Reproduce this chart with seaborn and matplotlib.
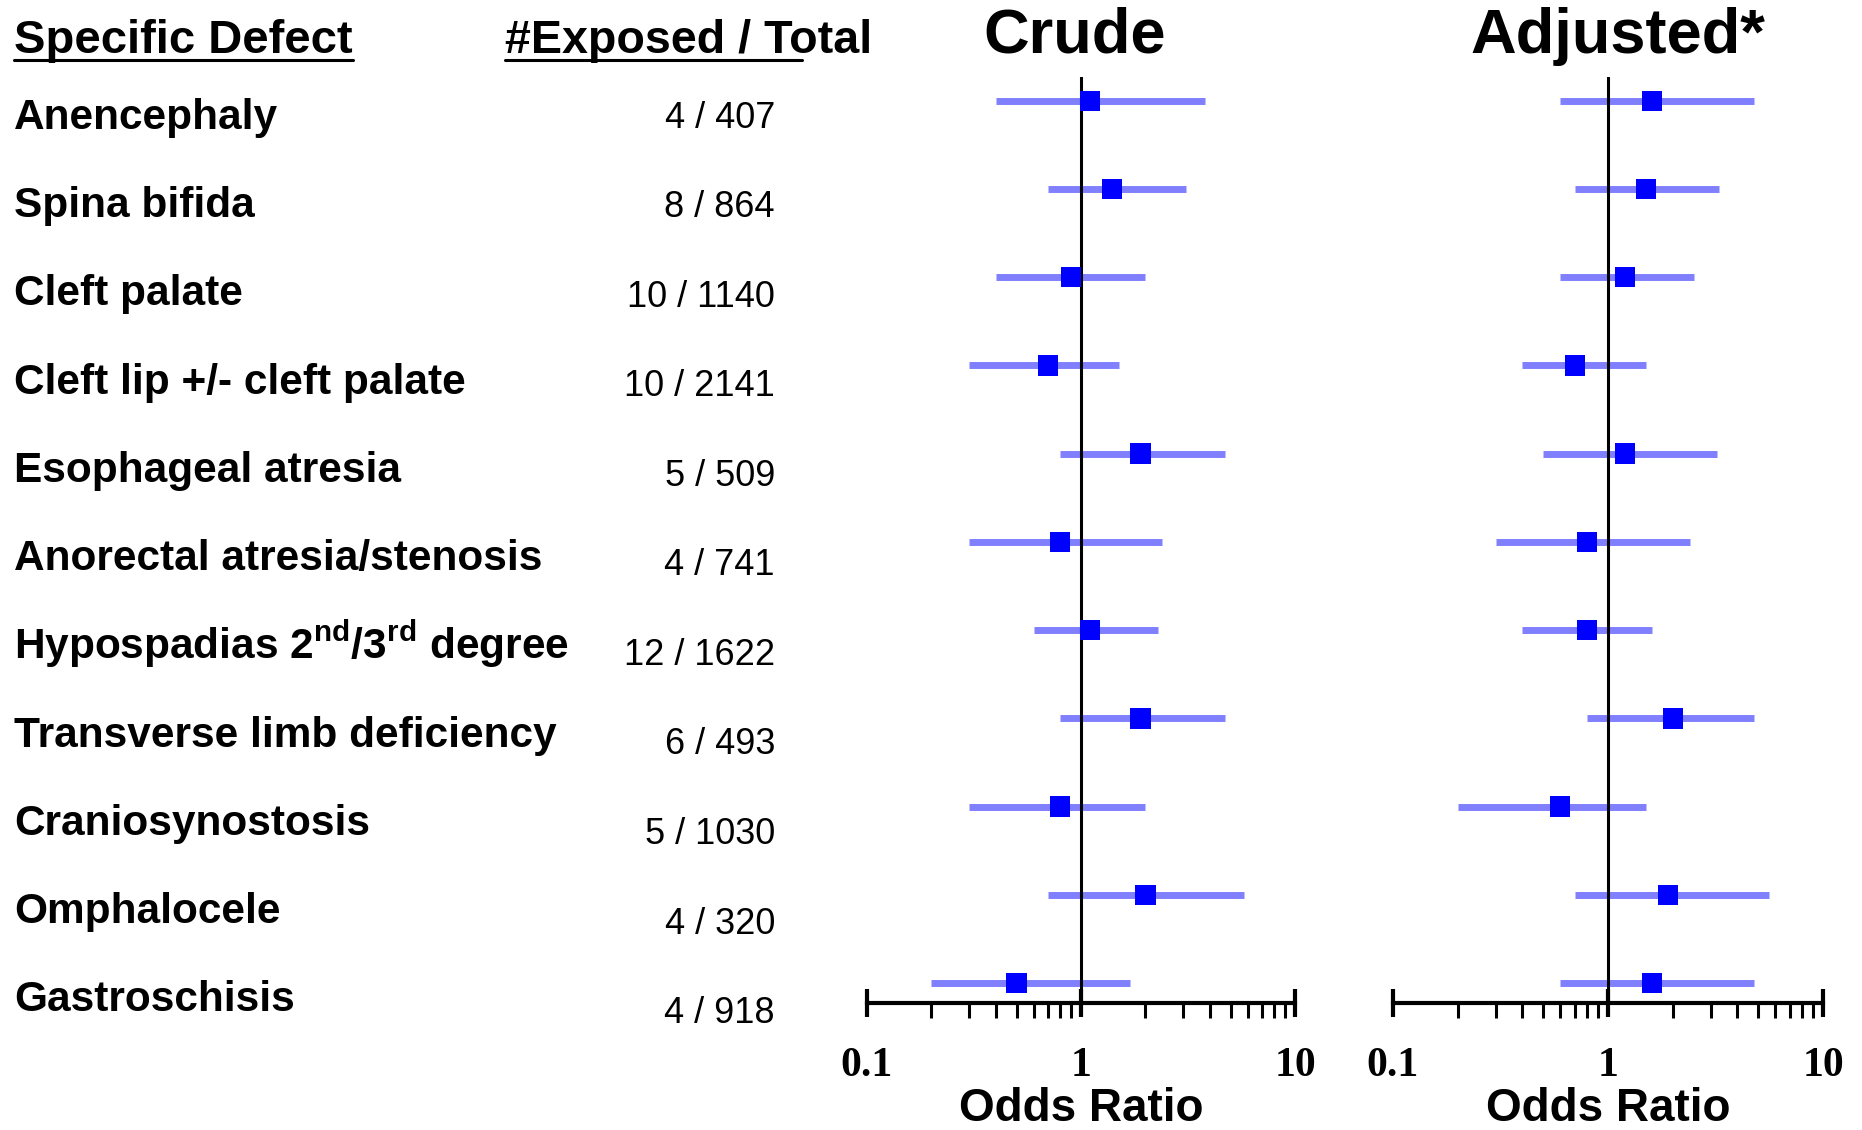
import numpy as np
import pandas as pd
import matplotlib
matplotlib.use("Agg")
import matplotlib.pyplot as plt
from matplotlib import transforms
from matplotlib.lines import Line2D
from matplotlib.ticker import FixedLocator, FixedFormatter, LogLocator, NullFormatter
import seaborn as sns

# ── Data ─────────────────────────────────────────────────────────
DEFECTS = [
    "Anencephaly", "Spina bifida", "Cleft palate", "Cleft lip +/- cleft palate",
    "Esophageal atresia", "Anorectal atresia/stenosis",
    r"Hypospadias 2$^{\mathrm{nd}}$/3$^{\mathrm{rd}}$ degree",
    "Transverse limb deficiency", "Craniosynostosis", "Omphalocele", "Gastroschisis",
]
EXPOSED = [4, 8, 10, 10, 5, 4, 12, 6, 5, 4, 4]
TOTAL = [407, 864, 1140, 2141, 509, 741, 1622, 493, 1030, 320, 918]

CRUDE_OR = [1.1, 1.4, 0.9, 0.7, 1.9, 0.8, 1.1, 1.9, 0.8, 2.0, 0.5]
CRUDE_LO = [0.4, 0.7, 0.4, 0.3, 0.8, 0.3, 0.6, 0.8, 0.3, 0.7, 0.2]
CRUDE_HI = [3.8, 3.1, 2.0, 1.5, 4.7, 2.4, 2.3, 4.7, 2.0, 5.8, 1.7]

ADJ_OR = [1.6, 1.5, 1.2, 0.7, 1.2, 0.8, 0.8, 2.0, 0.6, 1.9, 1.6]
ADJ_LO = [0.6, 0.7, 0.6, 0.4, 0.5, 0.3, 0.4, 0.8, 0.2, 0.7, 0.6]
ADJ_HI = [4.8, 3.3, 2.5, 1.5, 3.2, 2.4, 1.6, 4.8, 1.5, 5.6, 4.8]

TICKS = [0.1, 1, 10]
TICK_LABELS = ["0.1", "1", "10"]

CI_COLOR = "#8080ff"
PT_COLOR = "#0000ff"
W, H = 1862, 1130

sns.set_theme(style="white")
plt.rcParams["font.family"] = ["Liberation Sans", "DejaVu Sans"]
plt.rcParams["text.color"] = "black"
plt.rcParams["axes.labelcolor"] = "black"
plt.rcParams["xtick.color"] = "black"
plt.rcParams["mathtext.fontset"] = "custom"
plt.rcParams["mathtext.rm"] = "Liberation Sans:bold"
plt.rcParams["mathtext.bf"] = "Liberation Sans:bold"
plt.rcParams["mathtext.it"] = "Liberation Sans:bold:italic"

fig = plt.figure(figsize=(W / 100, H / 100), dpi=100)
ax_c = fig.add_axes([867 / W, 1 - 1003 / H, 428 / W, 926 / H])
ax_a = fig.add_axes([1393 / W, 1 - 1003 / H, 430 / W, 926 / H])


def forest(ax, ors, los, his, title, title_x):
    df = pd.DataFrame({"row": np.arange(len(ors)), "or": ors, "lo": los, "hi": his})
    ax.set_xscale("log")
    ax.hlines(df["row"], df["lo"], df["hi"], color=CI_COLOR, lw=5, zorder=1)
    ax.axvline(1, color="black", lw=2.2, zorder=2)
    sns.scatterplot(data=df, x="or", y="row", marker="s", s=215, color=PT_COLOR,
                    edgecolor="none", linewidth=0, ax=ax, zorder=3, legend=False)
    ax.set_xlim(0.1, 10)
    ax.set_ylim(len(ors) - 1 + 0.227, -0.27)
    for side in ["left", "top", "right"]:
        ax.spines[side].set_visible(False)
    ax.spines["bottom"].set_color("black")
    ax.spines["bottom"].set_linewidth(3)
    ax.set_yticks([])
    ax.set_ylabel("")
    ax.xaxis.set_major_locator(FixedLocator(TICKS))
    ax.xaxis.set_major_formatter(FixedFormatter(TICK_LABELS))
    ax.xaxis.set_minor_locator(LogLocator(base=10, subs=np.arange(2, 10)))
    ax.xaxis.set_minor_formatter(NullFormatter())
    ax.tick_params(axis="x", which="major", direction="inout", length=20, width=3,
                   color="black", labelcolor="black", pad=22, bottom=True)
    ax.tick_params(axis="x", which="minor", direction="out", length=11, width=2.2,
                   color="black", bottom=True)
    for lab in ax.get_xticklabels():
        lab.set_fontfamily("Liberation Serif")
        lab.set_fontweight("bold")
        lab.set_fontsize(30)
    ax.set_xlabel("Odds Ratio", fontsize=33, fontweight="bold", labelpad=1)
    ax.set_title(title, fontsize=45.5, fontweight="bold", pad=17.5, x=title_x)


forest(ax_c, CRUDE_OR, CRUDE_LO, CRUDE_HI, "Crude", 0.486)
forest(ax_a, ADJ_OR, ADJ_LO, ADJ_HI, "Adjusted*", 0.523)

# ── Left text columns ────────────────────────────────────────────
trans = transforms.blended_transform_factory(fig.transFigure, ax_c.transData)
for i, (name, e, t) in enumerate(zip(DEFECTS, EXPOSED, TOTAL)):
    fig.text(14 / W, i + 0.32, name, transform=trans, fontsize=30.5,
             fontweight="bold", va="baseline", ha="left")
    # the count column drifts slightly lower than the rows in the original
    fig.text(775 / W, i * 1.015 + 0.305, f"{e} / {t}", transform=trans,
             fontsize=26, va="baseline", ha="right")

h1 = fig.text(14 / W, 1 - 53 / H, "Specific Defect", fontsize=34,
              fontweight="bold", va="baseline")
h2 = fig.text(505 / W, 1 - 53 / H, "#Exposed / Total", fontsize=33.6,
              fontweight="bold", va="baseline")

# underlines under the headers
fig.canvas.draw()
r = fig.canvas.get_renderer()
for txt, frac in [(h1, 1.0), (h2, 0.81)]:
    bb = txt.get_window_extent(r)
    y = (H - 60) / H
    x0 = bb.x0 / W
    x1 = (bb.x0 + frac * bb.width) / W
    fig.add_artist(Line2D([x0, x1], [y, y], transform=fig.transFigure,
                          color="black", lw=2.2))

fig.savefig("out.png", dpi=100)
